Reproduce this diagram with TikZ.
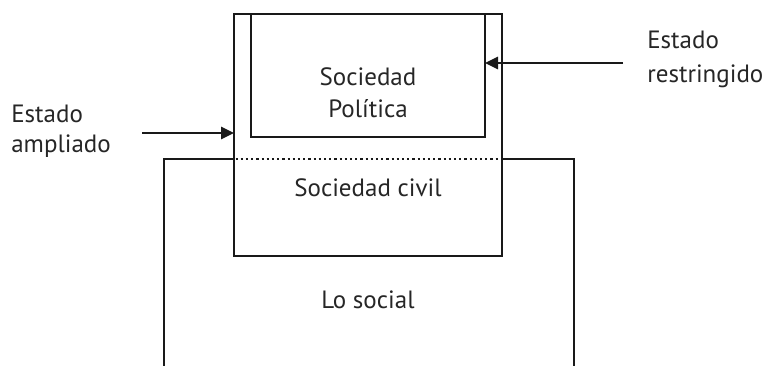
\documentclass[tikz,border=0pt]{standalone}
\usepackage{fontspec}
\setmainfont{PT Sans}
\usetikzlibrary{arrows.meta}
\begin{document}
\begin{tikzpicture}[x=1pt,y=-1pt,
  line width=2.6pt, draw=black!90,
  boxline/.style={draw, line width=2.6pt, inner sep=0pt, outer sep=0pt},
  lbl/.style={font=\fontsize{25}{32}\selectfont, text=black!85, inner sep=0pt},
  arr/.style={-{Triangle[length=13pt,width=12pt]}, line width=2.6pt},
  dots/.style={line width=2.4pt, dash pattern=on 2.2pt off 3pt}]
\useasboundingbox (0,0) rectangle (770,365);
% outer box: Estado ampliado
\node[boxline, minimum width=268pt, minimum height=242pt] (amp) at (368,135) {};
% inner box: Sociedad politica
\node[boxline, minimum width=234pt, minimum height=123pt] (pol) at (368,75.5) {};
% dotted boundary
\coordinate (dl) at (235.5,159);
\coordinate (dr) at (500.5,159);
\draw[dots] (dl) -- (dr);
% lo social
\coordinate (sl) at (164,159);
\coordinate (sr) at (574,159);
\coordinate (slb) at (164,366);
\coordinate (srb) at (574,366);
\draw[line cap=rect] (slb) -- (sl) -- (sl -| amp.west);
\draw[line cap=rect] (sr -| amp.east) -- (sr) -- (srb);
% texts
\node[lbl, align=center, anchor=base] (tpol) at (368,117) {Sociedad\\Política};
\node[lbl, anchor=base] (tciv) at (368,196) {Sociedad civil};
\node[lbl, anchor=base] (tsoc) at (368,308) {Lo social};
\node[lbl, align=left, anchor=base west, font=\fontsize{25}{30.5}\selectfont] (tamp) at (10,152.5) {Estado\\ampliado};
\node[lbl, align=left, anchor=base west, font=\fontsize{25}{34.5}\selectfont] (tres) at (646,82.5) {Estado\\restringido};
% arrows
\coordinate (a1) at (142,133);
\coordinate (a2) at (623,63);
\draw[arr] (a1) -- (a1 -| amp.west);
\draw[arr] (a2) -- (a2 -| pol.east);
\end{tikzpicture}
\end{document}
